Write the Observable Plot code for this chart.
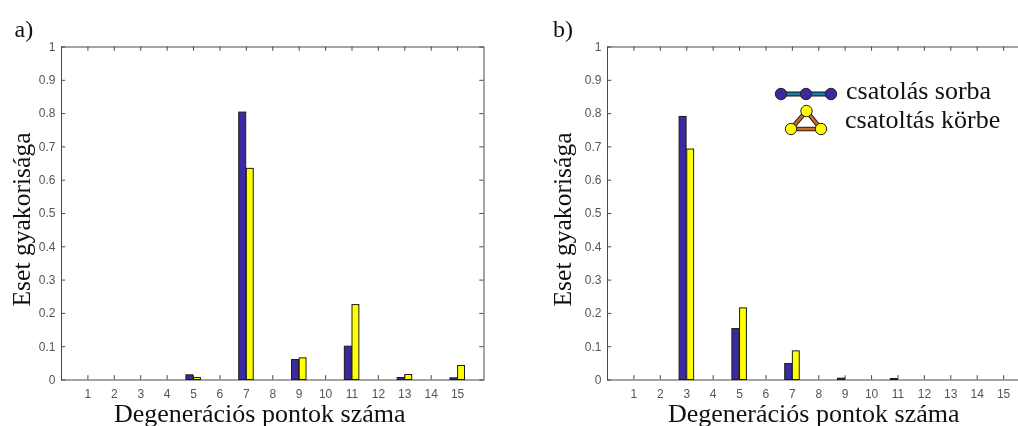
<!DOCTYPE html>
<html><head><meta charset="utf-8">
<script src="https://cdn.jsdelivr.net/npm/d3@7"></script>
<script src="https://cdn.jsdelivr.net/npm/@observablehq/plot@0.6"></script>
<style>
html,body{margin:0;padding:0;background:#fff}
#wrap{position:relative;width:1018px;height:426px;overflow:hidden;background:#fff;filter:blur(0.35px)}
#wrap>div{position:absolute;top:0;width:484px;height:426px}
#wrap svg{display:block;max-width:none}
#legend{position:absolute;left:0;top:0;pointer-events:none}
</style></head><body><div id="wrap"><div id="a"></div><div id="b" style="left:545.5px"></div></div>
<script>
const categories = [1,2,3,4,5,6,7,8,9,10,11,12,13,14,15];
const yTicks = [0,0.1,0.2,0.3,0.4,0.5,0.6,0.7,0.8,0.9,1];
const serialA = [0,0,0,0,0.014,0,0.803,0,0.06,0,0.10,0,0.006,0,0.005];
const ringA   = [0,0,0,0,0.006,0,0.634,0,0.065,0,0.225,0,0.015,0,0.042];
const serialB = [0,0,0.79,0,0.153,0,0.048,0,0.004,0,0.003,0,0,0,0];
const ringB   = [0,0,0.692,0,0.215,0,0.086,0,0,0,0,0,0,0,0];
const xTitle = "Degenerációs pontok száma";
const yTitle = "Eset gyakorisága";
const serif = "'Liberation Serif','Times New Roman',serif";
const BLUE = "#3b2a9f", YELLOW = "#ffff00", EDGE = "#1c1c1c", AXIS = "#4a4a4a";

function chart(serial, ring, letter, xDx, letterDx, yDx){
  const blue = categories.map((c,i)=>({x1:c-0.27,x2:c-0.005,y:serial[i]})).filter(d=>d.y>0);
  const yel  = categories.map((c,i)=>({x1:c+0.02,x2:c+0.28,y:ring[i]})).filter(d=>d.y>0);
  return Plot.plot({
    width:483.5, height:426, marginLeft:61, marginRight:0, marginTop:46.5, marginBottom:46.5,
    style:{fontFamily:"'Liberation Sans',Arial,sans-serif",background:"transparent",overflow:"visible",maxWidth:"none"},
    x:{domain:[0,16],label:null}, y:{domain:[0,1],label:null},
    marks:[
      Plot.axisX(categories,{tickSize:0,tickPadding:9,fontSize:12,color:"#555",tickFormat:d=>String(d),label:null}),
      Plot.axisY(yTicks,{tickSize:0,tickPadding:6,fontSize:12,color:"#555",tickFormat:d=>String(d),label:null}),
      Plot.frame({stroke:AXIS,strokeWidth:1}),
      Plot.ruleX(categories,{x:d=>d,y1:0,y2:0.013,stroke:AXIS}),
      Plot.ruleX(categories,{x:d=>d,y1:1,y2:0.987,stroke:AXIS}),
      Plot.ruleY(yTicks,{y:d=>d,x1:0,x2:0.16,stroke:AXIS}),
      Plot.ruleY(yTicks,{y:d=>d,x1:16,x2:15.84,stroke:AXIS}),
      Plot.rectY(blue,{x1:"x1",x2:"x2",y1:0,y2:"y",fill:BLUE,stroke:EDGE,strokeWidth:1}),
      Plot.rectY(yel,{x1:"x1",x2:"x2",y1:0,y2:"y",fill:YELLOW,stroke:EDGE,strokeWidth:1}),
      Plot.text([xTitle],{frameAnchor:"bottom",textAnchor:"middle",dx:xDx,dy:41.5,fontSize:26,fontFamily:serif,fill:"#111"}),
      Plot.text([yTitle],{frameAnchor:"left",textAnchor:"middle",rotate:-90,dx:yDx,dy:6,fontSize:25.6,fontFamily:serif,fill:"#111"}),
      Plot.text([letter],{frameAnchor:"top-left",textAnchor:"start",dx:letterDx,dy:-27,fontSize:24,fontFamily:serif,fill:"#111"})
    ]
  });
}
document.getElementById("a").append(chart(serialA,ringA,"a)",-13,-47,-40));
document.getElementById("b").append(chart(serialB,ringB,"b)",-5,-54.5,-45));

// Legend: an overlay in the page's own coordinates
const svg = d3.select("#wrap").append("svg").attr("id","legend").attr("width",1018).attr("height",426);
const row = [[781,94],[806,94],[831,94]];
const tri = [[806.5,111],[791,129],[821,129]];
svg.append("path").attr("d",d3.line()(row)).attr("fill","none").attr("stroke","#111").attr("stroke-width",5);
svg.append("path").attr("d",d3.line()(row)).attr("fill","none").attr("stroke","#1b7fa6").attr("stroke-width",3);
svg.append("path").attr("d",d3.line()(tri)+"Z").attr("fill","none").attr("stroke","#222").attr("stroke-width",4.5);
svg.append("path").attr("d",d3.line()(tri)+"Z").attr("fill","none").attr("stroke","#d2691e").attr("stroke-width",2.6);
svg.selectAll("circle.r").data(row).join("circle").attr("class","r").attr("cx",d=>d[0]).attr("cy",d=>d[1]).attr("r",5.7).attr("fill",BLUE).attr("stroke","#222");
svg.selectAll("circle.t").data(tri).join("circle").attr("class","t").attr("cx",d=>d[0]).attr("cy",d=>d[1]).attr("r",5.7).attr("fill",YELLOW).attr("stroke","#222");
svg.selectAll("text").data([["csatolás sorba",846,99],["csatoltás körbe",845,128]]).join("text")
  .attr("x",d=>d[1]).attr("y",d=>d[2]).text(d=>d[0]).attr("font-family",serif).attr("font-size",26).attr("fill","#111");
</script></body></html>
